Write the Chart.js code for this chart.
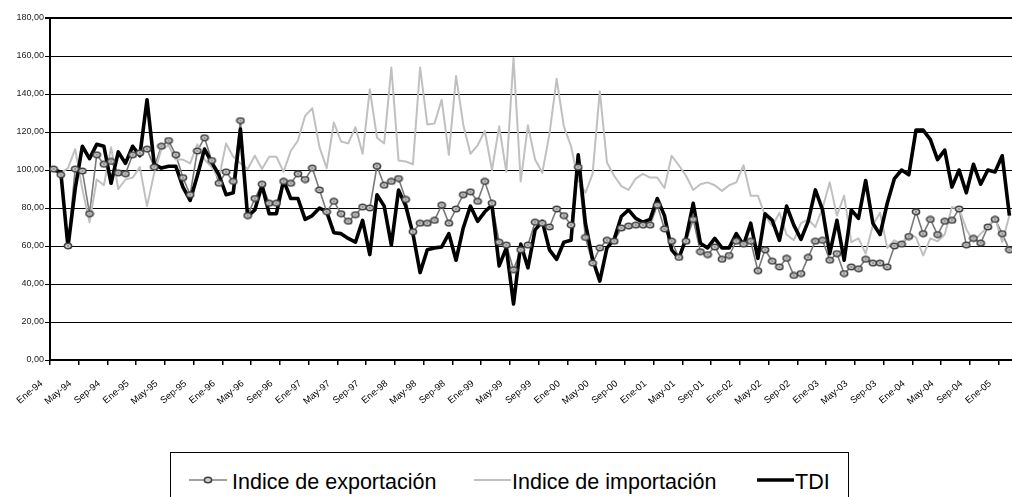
<!DOCTYPE html>
<html><head><meta charset="utf-8">
<script src="https://cdn.jsdelivr.net/npm/chart.js@4.4.1/dist/chart.umd.min.js"></script>
<style>
html,body{margin:0;padding:0;background:#fff;overflow:hidden;width:1012px;height:497px;}
#wrap{position:absolute;left:0;top:0;width:1018px;height:497px;}
#legend{position:absolute;left:170px;top:452px;width:679px;height:80px;border:1px solid #000;box-sizing:border-box;background:#fff;}
.lt{position:absolute;font-family:'Liberation Sans',Arial,sans-serif;font-size:21.5px;line-height:22px;color:#000;white-space:nowrap;top:18px;}
.ls{position:absolute;top:17px;}
</style></head><body>
<div id="wrap"><canvas id="c" width="1018" height="497"></canvas></div>
<div id="legend">
  <svg class="ls" style="left:18px" width="40" height="20"><line x1="0" y1="10" x2="38" y2="10" stroke="#808080" stroke-width="1.5"/><ellipse cx="19" cy="10" rx="3.6" ry="2.7" fill="#cfcfcf" stroke="#404040" stroke-width="1.6"/></svg>
  <span class="lt" style="left:61px">Indice de exportación</span>
  <svg class="ls" style="left:303px" width="40" height="20"><line x1="0" y1="10" x2="37" y2="10" stroke="#c0c0c0" stroke-width="2"/></svg>
  <span class="lt" style="left:341px">Indice de importación</span>
  <svg class="ls" style="left:586px" width="40" height="20"><line x1="0" y1="10" x2="37" y2="10" stroke="#000" stroke-width="3.5"/></svg>
  <span class="lt" style="left:624px">TDI</span>
</div>
<script>
// ---- data ----
const months = ['Ene','Feb','Mar','Abr','May','Jun','Jul','Ago','Sep','Oct','Nov','Dic'];
const years = ['94','95','96','97','98','99','00','01','02','03','04','05'];
const nPoints = 134;
const categories = [];
for (const y of years) for (const m of months) categories.push(m + '-' + y);
categories.length = nPoints;

const exportIdx = [
 100.5,97.5,60,100.5,99.5,77,108,103,104.5,98.5,98,108,109,111,101.5,112.5,115.5,108,96,87,
 110,117,105,93,99,94,126,76,85,92.5,82.5,82.5,94,93,98,95,101,89.5,78,83.5,
 77,73,76.5,80.5,80,102,92,94,95.5,84.5,67.5,72,72,73.5,81.5,72,79.5,87,88.5,83.5,
 94,82.5,62,60.5,47.5,58,60.5,72.5,72,70,79.5,76,71,101.5,64.5,51,59,63,62.5,69.5,
 70.5,71,71,71,81.5,69,62.5,54,62.5,74,57,55.5,59.5,53,55,62.5,61,62.5,47,58,
 52,49,53.5,44.5,45.5,54,62.5,63,52.5,56,45.5,49,48,53,51,51,49,60,61,65,
 78,66.5,74,66,73,73.5,79.5,60.5,64,61.5,70,74,66.5,58
];
const importIdx = [
 100,98.5,101,111,90,72.5,95,92,112,90,95,96,101.5,81,98.5,111,113,105.5,105.5,103.5,
 113.5,105.5,101.5,95.5,114,107,103.5,100.5,107.5,100.5,107,107,99,110,115.5,128.5,132.5,112,101,125,
 115,114,122.5,108.5,142.5,117,114,154,105,104.5,103,154,124,124.5,137,108,149.5,124,108.5,113,
 120.5,100,123,99,159,94,123.5,105.5,98.5,119,148,123,112.5,94.5,88,98,141.5,104,97,91.5,
 89.5,95.5,98,96,96,90.5,107.5,102.5,97,89.5,92.5,93.5,92,89,92,93.5,102.5,86.5,86.5,76,
 70.5,77.5,66,63,72,74,70,80,93.5,76,86.5,62,64,56,71,77.5,59,63,61,66.5,
 64.5,55,64,62.5,66,80.5,79.5,69,62,66.5,70,75,62,76
];
const tdi = [
 100,99,59.5,90,112.5,106,113.5,112.5,93,109.5,103.5,112.5,107.5,137,103,101,102,102,91,84,
 97,111,104,97.5,87,88,121.5,75.5,79,92,77,77,94.5,85,85,74,76,80,78,67,
 66.5,64,62,73.5,55.5,87,81,60.5,89.5,81,66.5,46,58,59,59.5,66.5,52.5,69.5,81,73,
 78,81.5,49.5,59,29.5,61,48.5,68.5,73,58,53,62,63,108,72,53,41.5,59,63.5,75.5,
 79,74.5,72.5,74,85,76,58,53.5,64,82.5,61.5,59,64,59,59,66.5,60.5,72,53.5,77,
 73.5,63,81,71,63.5,73,89.5,79,56,73.5,52.5,79,74.5,94.5,72,66,82.5,95.5,100,97.5,
 121,121,116,105.5,110.5,91,100,88,103,92.5,100,99,107.5,76
];
const yTickValues = [0,20,40,60,80,100,120,140,160,180];
const yTickLabels = ['0,00','20,00','40,00','60,00','80,00','100,00','120,00','140,00','160,00','180,00'];

// ---- marker ----
const mk = document.createElement('canvas');
mk.width = 10; mk.height = 8;
(function(){const g = mk.getContext('2d');
 g.beginPath(); g.ellipse(5,4,3.6,2.7,0,0,Math.PI*2);
 g.fillStyle='#cfcfcf'; g.fill(); g.lineWidth=1.6; g.strokeStyle='#404040'; g.stroke();
 g.beginPath(); g.arc(5,4,0.8,0,Math.PI*2); g.fillStyle='#505050'; g.fill();})();

const FONT = "'Liberation Sans', Arial, sans-serif";
new Chart(document.getElementById('c'), {
  type: 'line',
  data: {
    labels: categories,
    datasets: [
      {label:'exp-markers', data: exportIdx, showLine:false, pointStyle: mk, pointRadius:4, pointHoverRadius:4, order:0},
      {label:'TDI', data: tdi, borderColor:'#000', borderWidth:3.6, pointRadius:0, tension:0, order:1, borderJoinStyle:'round'},
      {label:'Indice de importación', data: importIdx, borderColor:'#c0c0c0', borderWidth:2, pointRadius:0, tension:0, order:2, borderJoinStyle:'round'},
      {label:'Indice de exportación', data: exportIdx, borderColor:'#7a7a7a', borderWidth:1.6, pointRadius:0, tension:0, order:3, borderJoinStyle:'round'}
    ]
  },
  options: {
    responsive:false, animation:false, devicePixelRatio:1,
    layout:{padding:{top:18,right:1,left:0,bottom:0}},
    plugins:{legend:{display:false}, tooltip:{enabled:false}},
    scales:{
      x:{
        type:'category', offset:true,
        grid:{drawOnChartArea:false, drawTicks:true, tickLength:5, offset:true, lineWidth:1.5,
              tickColor:(c)=> (c.index!==undefined && c.index%4===0) ? '#000' : 'rgba(0,0,0,0)'},
        border:{display:true,color:'#000',width:2},
        ticks:{autoSkip:false, maxRotation:40, minRotation:40, padding:13, labelOffset:-12,
               font:{family:FONT,size:9.5}, color:'#000',
               callback:(v,i)=> i%4===0 ? categories[i] : ''},
        afterFit:(s)=>{ s.height = 137; s.paddingLeft = 0; s.paddingRight = 0; }
      },
      y:{
        min:0, max:180,
        afterBuildTicks:(s)=>{ s.ticks = yTickValues.map(v=>({value:v})); },
        ticks:{font:{family:FONT,size:9}, color:'#222', padding:1,
               callback:(v)=> yTickLabels[yTickValues.indexOf(v)]},
        grid:{color:'#000', lineWidth:(c)=> (c.tick && c.tick.value===180) ? 2 : 1, tickLength:5, drawTicks:true},
        border:{display:true,color:'#000',width:2},
        afterFit:(s)=>{ s.width = 50; }
      }
    }
  }
});
</script>
</body></html>
